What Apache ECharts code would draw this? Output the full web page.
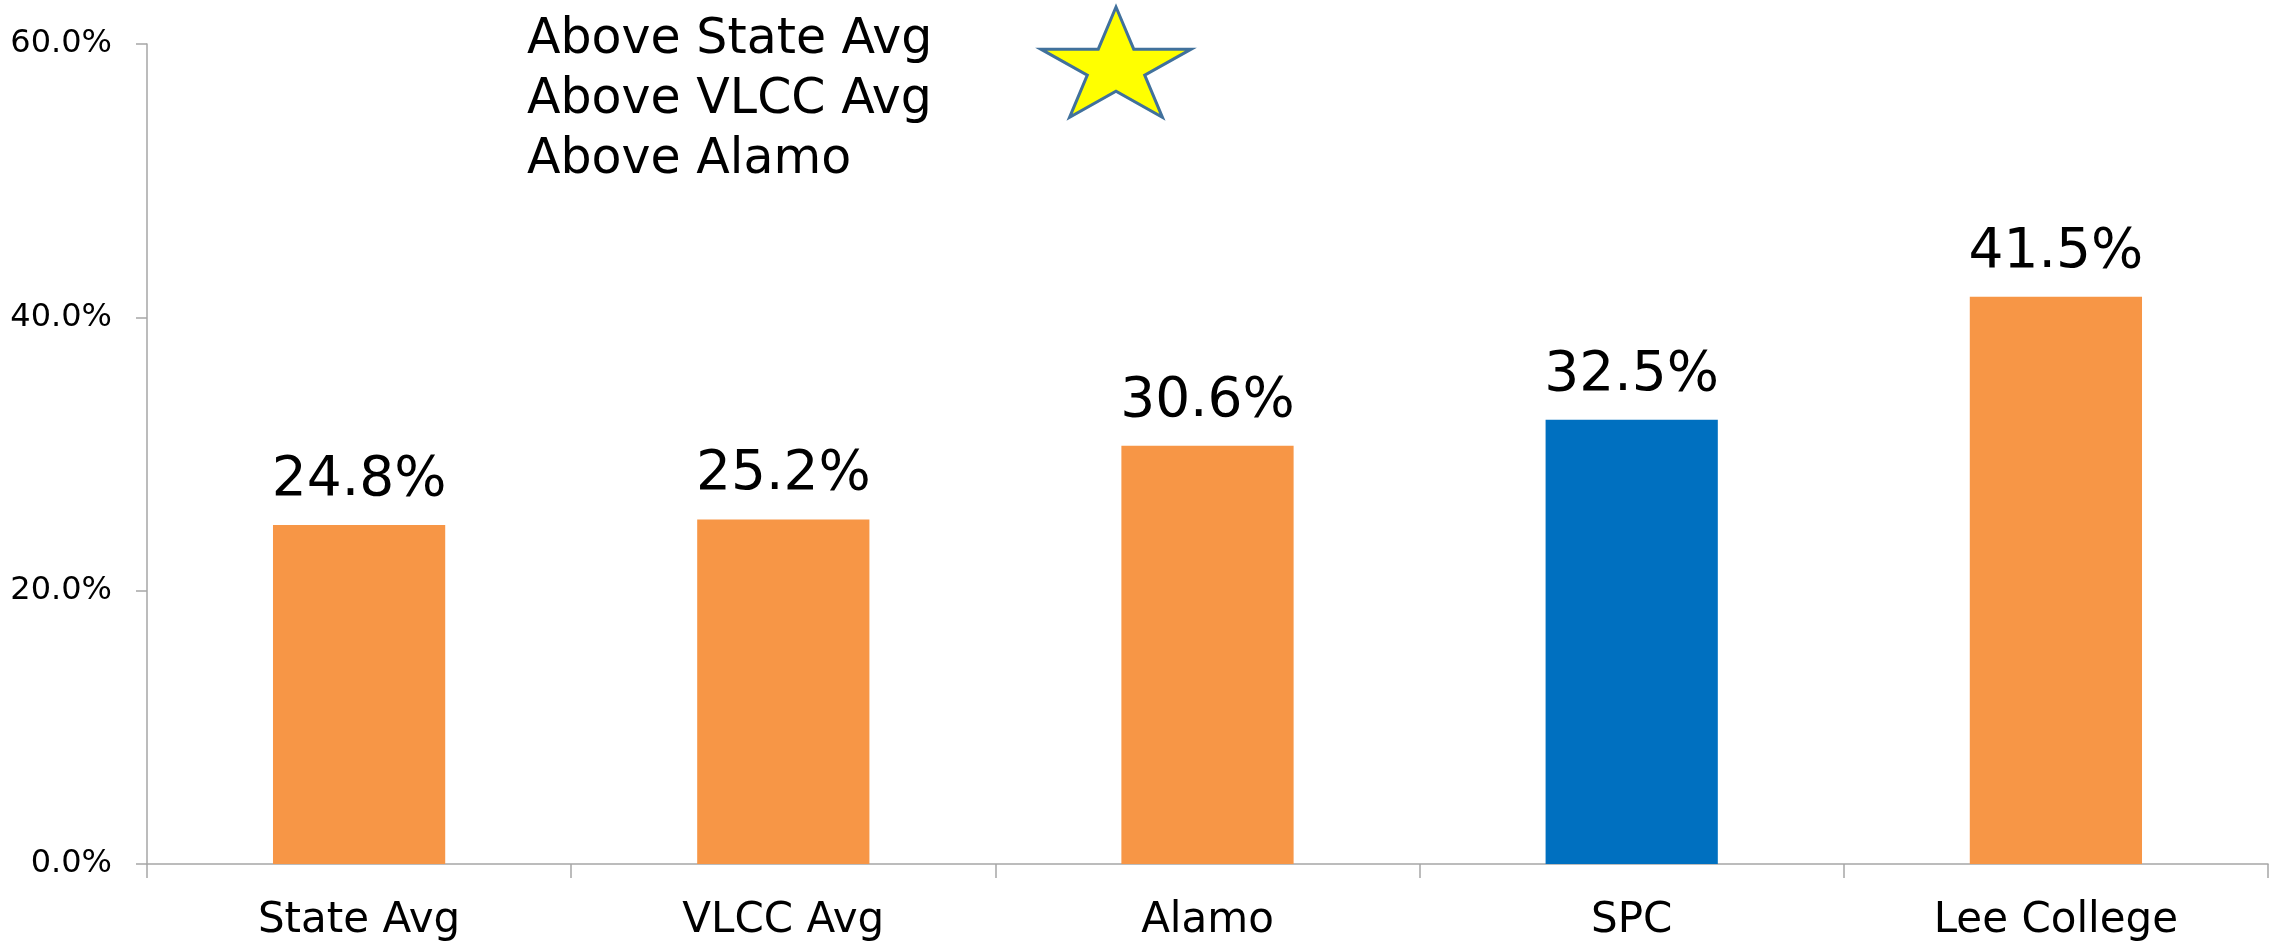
<!DOCTYPE html>
<html>
<head>
<meta charset="utf-8">
<script src="https://cdn.jsdelivr.net/npm/echarts@6/dist/echarts.min.js"></script>
<style>
  html, body { margin: 0; padding: 0; background: #fff; }
  #chart { width: 2275px; height: 944px; }
</style>
</head>
<body>
<div id="chart"></div>
<script>
const categories = ['State Avg', 'VLCC Avg', 'Alamo', 'SPC', 'Lee College']
const rates = [24.8, 25.2, 30.6, 32.5, 41.5]
const highlight = 'SPC'
const notes = ['Above State Avg', 'Above VLCC Avg', 'Above Alamo']

const ORANGE = '#F79646'
const BLUE = '#0070C0'
const FONT = 'DejaVu Sans'

// five-point star, stretched like the one in the slide
function starPoints(cx, cy, rx, ry) {
  const pts = []
  for (let i = 0; i < 10; i++) {
    const a = Math.PI / 5 * i
    const k = i % 2 === 0 ? 1 : 0.382
    pts.push([cx + Math.sin(a) * rx * k, cy - Math.cos(a) * ry * k])
  }
  return pts
}

const chart = echarts.init(document.getElementById('chart'))
chart.setOption({
  animation: false,
  textStyle: { fontFamily: FONT },
  grid: { left: 147, right: 7, top: 44, bottom: 80, containLabel: false, outerBoundsMode: 'none' },
  xAxis: {
    type: 'category',
    data: categories,
    axisLine: { lineStyle: { color: '#A6A6A6', width: 1.5 } },
    axisTick: { show: true, length: 14, lineStyle: { color: '#A6A6A6', width: 1.5 } },
    axisLabel: { color: '#000', fontSize: 42, margin: 36, fontFamily: FONT }
  },
  yAxis: {
    type: 'value',
    min: 0,
    max: 60,
    interval: 20,
    axisLine: { show: true, lineStyle: { color: '#A6A6A6', width: 1.5 } },
    axisTick: { show: true, length: 11, lineStyle: { color: '#A6A6A6', width: 1.5 } },
    splitLine: { show: false },
    axisLabel: {
      color: '#000', fontSize: 32, margin: 35, fontFamily: FONT,
      formatter: (v) => v.toFixed(1) + '%'
    }
  },
  series: [{
    type: 'bar',
    barWidth: '40.6%',
    data: rates.map((v, i) => ({
      value: v,
      itemStyle: { color: categories[i] === highlight ? BLUE : ORANGE }
    })),
    label: {
      show: true,
      position: 'top',
      distance: 17,
      color: '#000',
      fontSize: 55,
      fontFamily: FONT,
      formatter: (p) => p.value.toFixed(1) + '%'
    }
  }],
  graphic: [
    {
      type: 'text',
      left: 527,
      top: 10,
      style: {
        text: notes.join('\n'),
        fontSize: 49,
        lineHeight: 60,
        fontFamily: FONT,
        fill: '#000'
      }
    },
    {
      type: 'polygon',
      shape: { points: starPoints(1116, 68, 79, 61) },
      style: { fill: '#FFFF00', stroke: '#41719C', lineWidth: 3 }
    }
  ]
})
</script>
</body>
</html>
